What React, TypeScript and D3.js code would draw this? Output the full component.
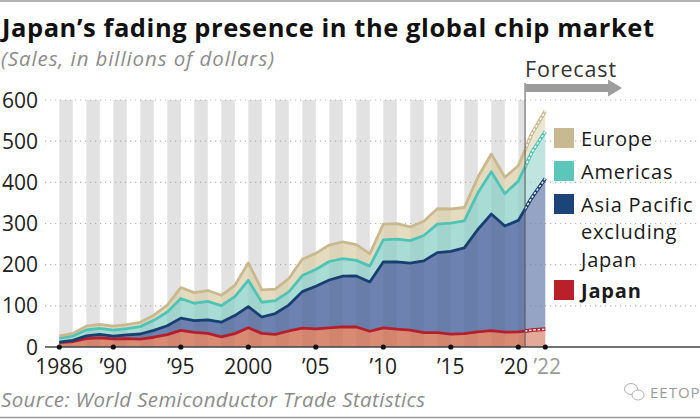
import React from "react";
import * as d3 from "d3";

const years = [
  1986, 1987, 1988, 1989, 1990, 1991, 1992, 1993, 1994, 1995, 1996, 1997, 1998,
  1999, 2000, 2001, 2002, 2003, 2004, 2005, 2006, 2007, 2008, 2009, 2010, 2011,
  2012, 2013, 2014, 2015, 2016, 2017, 2018, 2019, 2020, 2021, 2022,
];

// sales, billions of dollars
const japan = [
  10.5, 13.0, 20.4, 22.0, 19.6, 20.4, 19.2, 23.7, 30.0, 40.2, 35.3, 33.0, 24.6,
  32.5, 46.7, 33.1, 30.5, 38.9, 45.8, 44.1, 46.4, 48.8, 48.6, 38.3, 46.6, 43.4,
  41.1, 34.8, 34.8, 31.1, 32.3, 36.6, 40.0, 36.0, 36.5, 40.9, 43.4,
];
const asiaPacific = [
  1.5, 3.2, 6.8, 8.5, 6.9, 8.9, 12.4, 16.7, 21.7, 29.9, 29.0, 33.0, 35.7, 43.9,
  51.3, 39.8, 50.8, 62.9, 88.7, 103.4, 116.4, 123.5, 123.9, 119.8, 159.9, 163.5,
  162.8, 174.5, 194.4, 201.1, 208.4, 248.8, 282.9, 257.9, 271.0, 322, 366,
];
const americas = [
  9.4, 10.6, 14.3, 14.8, 14.4, 15.4, 17.9, 24.4, 33.2, 47.7, 42.0, 45.0, 40.4,
  46.0, 64.1, 35.8, 31.2, 32.3, 39.1, 40.7, 44.9, 42.3, 37.9, 38.3, 53.7, 55.2,
  54.4, 61.5, 69.2, 68.7, 65.5, 88.5, 102.9, 78.6, 95.4, 110, 114,
];
const europe = [
  4.9, 6.1, 9.0, 9.6, 9.6, 9.9, 10.4, 12.5, 17.0, 26.6, 25.7, 26.2, 24.9, 27.0,
  42.3, 30.3, 28.2, 32.3, 39.4, 39.3, 40.0, 41.0, 38.2, 29.9, 38.1, 37.4, 33.3,
  34.8, 37.4, 34.3, 32.7, 38.3, 43.0, 39.8, 37.5, 45, 50,
];

const seriesKeys = ["japan", "asia", "americas", "europe"];
const yTicks = [0, 100, 200, 300, 400, 500, 600];
const xTickYears = [1986, 1990, 1995, 2000, 2005, 2010, 2015, 2020, 2022];
const xTickLabels = ["1986", "\u201990", "\u201995", "2000", "\u201905", "\u201910", "\u201915", "\u201920", "\u201922"];
const forecastFrom = 2020.5;

const legendItems = [
  { key: "europe", lines: ["Europe"] },
  { key: "americas", lines: ["Americas"] },
  { key: "asia", lines: ["Asia Pacific", "excluding", "Japan"] },
  { key: "japan", lines: ["Japan"] },
];

const areaFill: Record<string, string> = {
  japan: "#d98a73",
  asia: "#6d82b0",
  americas: "#a8dcd5",
  europe: "#e5dcc0",
};
const lineColor: Record<string, string> = {
  japan: "#b51f2b",
  asia: "#173f71",
  americas: "#4ec4b7",
  europe: "#c9b98f",
};
const swatch: Record<string, string> = {
  japan: "#b8202a",
  asia: "#1b4478",
  americas: "#5cc6bb",
  europe: "#c9b991",
};

const FONT = "'Open Sans', sans-serif";

export default function App() {
  const W = 700;
  const H = 419;
  const x = d3.scaleLinear().domain([1986, 2022]).range([59.3, 545.3]);
  const y = d3.scaleLinear().domain([0, 600]).range([347, 100]);

  const rows = years.map((yr, i) => ({
    year: yr,
    japan: japan[i],
    asia: asiaPacific[i],
    americas: americas[i],
    europe: europe[i],
  }));
  const layers = d3.stack<any>().keys(seriesKeys)(rows);

  const area = d3
    .area<any>()
    .x((d) => x(d.data.year))
    .y0((d) => y(d[0]))
    .y1((d) => y(d[1]));
  const line = d3
    .line<any>()
    .x((d) => x(d.data.year))
    .y((d) => y(d[1]));

  const fx = x(forecastFrom);
  const stripeYears = years.filter((yr) => yr % 2 === 0 && yr < forecastFrom);
  const legendTops = [128, 161, 194, 280];

  return (
    <svg
      width={W}
      height={H}
      style={{ position: "absolute", left: 0, top: 0, background: "#fff" }}
      fontFamily={FONT}
    >
      <defs>
        <clipPath id="past">
          <rect x={0} y={0} width={fx} height={H} />
        </clipPath>
        <clipPath id="future">
          <rect x={fx} y={0} width={W - fx} height={H} />
        </clipPath>
      </defs>

      <line x1={0} x2={W} y1={1} y2={1} stroke="#9a9a9a" strokeWidth={1.5} />
      <line x1={0} x2={W} y1={417.5} y2={417.5} stroke="#9a9a9a" strokeWidth={1.5} />

      <text
        x={2}
        y={37}
        fontSize={25.5}
        fontWeight={700}
        fill="#111"
        textLength={652}
        lengthAdjust="spacing"
      >
        Japan’s fading presence in the global chip market
      </text>
      <text
        x={1}
        y={66}
        fontSize={20.5}
        fontStyle="italic"
        fill="#8c8c8c"
        textLength={273}
        lengthAdjust="spacing"
      >
        (Sales, in billions of dollars)
      </text>

      {/* background stripes */}
      {stripeYears.map((yr) => (
        <rect
          key={yr}
          x={x(yr)}
          y={y(600)}
          width={Math.min(x(yr + 1), fx) - x(yr)}
          height={y(0) - y(600)}
          fill="#ebebeb"
        />
      ))}

      {/* gridlines */}
      {yTicks.slice(1).map((t) => (
        <line
          key={t}
          x1={45}
          x2={W}
          y1={y(t)}
          y2={y(t)}
          stroke="#b5b5b5"
          strokeWidth={1.2}
          strokeDasharray="1.2,3.8"
        />
      ))}
      {yTicks.map((t) => (
        <text
          key={t}
          x={38}
          y={y(t)}
          dy="0.36em"
          textAnchor="end"
          fontSize={21}
          fill="#222"
        >
          {t}
        </text>
      ))}

      {/* areas */}
      <g clipPath="url(#past)">
        {layers.map((l) => (
          <path key={l.key} d={area(l) ?? ""} fill={areaFill[l.key]} />
        ))}
        {stripeYears.map((yr) => (
          <rect
            key={yr}
            x={x(yr)}
            y={y(600)}
            width={Math.min(x(yr + 1), fx) - x(yr)}
            height={y(0) - y(600)}
            fill="#000"
            opacity={0.035}
          />
        ))}
      </g>
      <g clipPath="url(#future)" opacity={0.72}>
        {layers.map((l) => (
          <path key={l.key} d={area(l) ?? ""} fill={areaFill[l.key]} />
        ))}
      </g>

      {/* top lines */}
      <g clipPath="url(#past)">
        {layers.map((l) => (
          <path
            key={l.key}
            d={line(l) ?? ""}
            fill="none"
            stroke={lineColor[l.key]}
            strokeWidth={2.8}
            strokeLinejoin="round"
          />
        ))}
      </g>
      <g clipPath="url(#future)">
        {layers.map((l) => (
          <g key={l.key}>
            <path d={line(l) ?? ""} fill="none" stroke={lineColor[l.key]} strokeWidth={3.6} />
            <path
              d={line(l) ?? ""}
              fill="none"
              stroke="#fff"
              strokeWidth={1.5}
              strokeDasharray="2.5,1.8"
            />
          </g>
        ))}
      </g>

      {/* forecast marker */}
      <line x1={fx} x2={fx} y1={83} y2={y(0)} stroke="#555" strokeWidth={1} />
      <path
        d={`M${fx},84 L${fx + 83},84 L${fx + 83},79.5 L${fx + 97},88 L${fx + 83},96.5 L${fx + 83},92 L${fx},92 Z`}
        fill="#9c9c9c"
      />
      <text x={fx} y={77} fontSize={21.5} fill="#333" textLength={91} lengthAdjust="spacing">
        Forecast
      </text>

      {/* x axis */}
      <line x1={45} x2={W} y1={y(0)} y2={y(0)} stroke="#444" strokeWidth={1.4} />
      {xTickYears.map((yr, i) => (
        <g key={yr}>
          <circle cx={x(yr)} cy={y(0)} r={2.6} fill="#111" />
          <text
            x={x(yr) + (yr === 2020 ? -4 : yr === 2022 ? 2 : 0)}
            y={374}
            textAnchor="middle"
            fontSize={21}
            fill={yr === 2022 ? "#9a9a9a" : "#222"}
          >
            {xTickLabels[i]}
          </text>
        </g>
      ))}

      {/* legend */}
      {legendItems.map((item, i) => (
        <g key={item.key}>
          <rect x={554} y={legendTops[i]} width={20} height={20} fill={swatch[item.key]} />
          {item.lines.map((t, j) => (
            <text
              key={j}
              x={581}
              y={legendTops[i] + 17.5 + j * 27.5}
              fontSize={20}
              letterSpacing={0.8}
              fontWeight={item.key === "japan" ? 700 : 400}
              fill="#1a1a1a"
            >
              {t}
            </text>
          ))}
        </g>
      ))}

      <text
        x={1}
        y={407}
        fontSize={20.5}
        fontStyle="italic"
        fill="#8c8c8c"
        textLength={424}
        lengthAdjust="spacing"
      >
        Source: World Semiconductor Trade Statistics
      </text>

      {/* watermark */}
      <g stroke="#b0b0b0" fill="#fff" strokeWidth={1}>
        <ellipse cx={631} cy={389} rx={6.5} ry={5.5} />
        <ellipse cx={638} cy={395} rx={6} ry={5} />
      </g>
      <text x={650} y={398} fontSize={15} fill="#9a9a9a" letterSpacing={1}>
        EETOP
      </text>
    </svg>
  );
}
